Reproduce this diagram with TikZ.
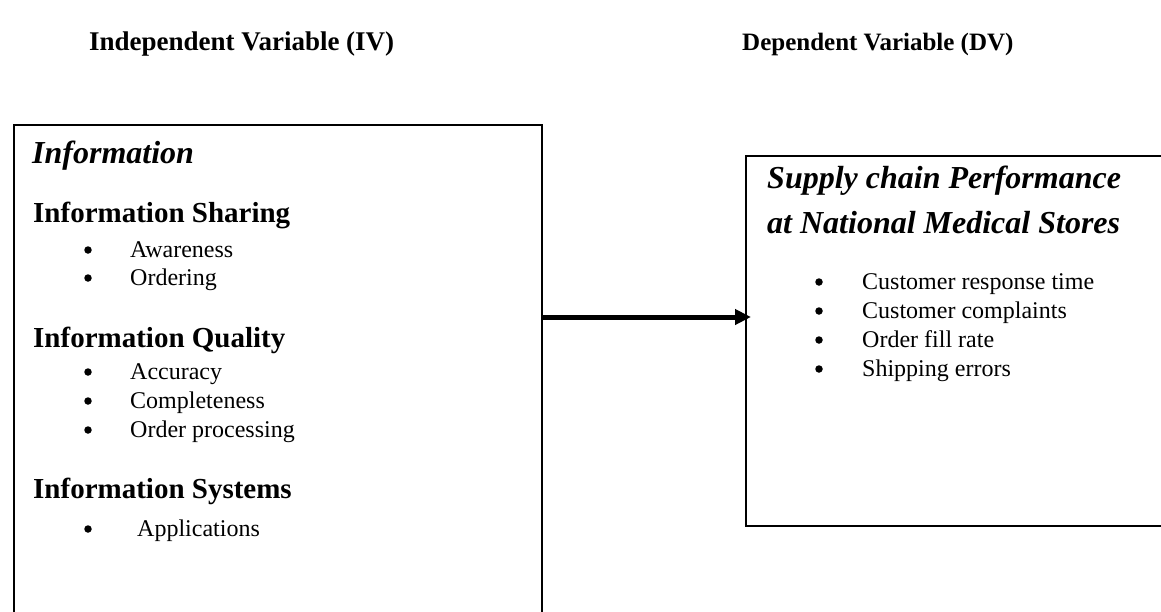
\documentclass[tikz,border=0pt]{standalone}
\usepackage{fontspec}
\setmainfont{Liberation Serif}
\usetikzlibrary{arrows.meta}
\tikzset{
  box/.style={draw, line width=2pt, rectangle, inner sep=0pt, anchor=north west},
  hdra/.style={anchor=base west, inner sep=0pt, font=\fontsize{27}{31}\selectfont\bfseries},
  hdrb/.style={anchor=base west, inner sep=0pt, font=\fontsize{25}{29}\selectfont\bfseries},
  ttl/.style={anchor=base west, inner sep=0pt, font=\fontsize{32}{36}\selectfont\bfseries\itshape},
  sub/.style={anchor=base west, inner sep=0pt, font=\fontsize{29}{33}\selectfont\bfseries},
  itm/.style={anchor=base west, inner sep=0pt, font=\fontsize{24}{28}\selectfont},
  dot/.style={circle, fill=black, inner sep=0pt, minimum size=7.5pt},
  link/.style={line width=5pt, -{Triangle[length=16pt,width=15pt]}, shorten >=-6pt}
}
\begin{document}
\begin{tikzpicture}[x=1pt,y=-1pt]
\useasboundingbox (0,0) rectangle (1161,611);
\clip (0,0) rectangle (1161,611);
% headers
\node[hdra] (hiv) at (89,50) {Independent Variable (IV)};
\node[hdrb] (hdv) at (742,50) {Dependent Variable (DV)};
% boxes
\node[box, minimum width=528pt, minimum height=520pt] (iv) at (13,124) {};
\node[box, minimum width=440pt, minimum height=370pt] (dv) at (745,155) {};
% left box content
\node[ttl] (tinfo) at (32,163) {Information};
\node[sub] (s1) at (33,222) {Information Sharing};
\node[dot] (b1) at (88,250) {}; \node[itm] (i1) at (130,257) {Awareness};
\node[dot] (b2) at (88,278) {}; \node[itm] (i2) at (130,285) {Ordering};
\node[sub] (s2) at (33,347) {Information Quality};
\node[dot] (b3) at (88,372) {}; \node[itm] (i3) at (130,379) {Accuracy};
\node[dot] (b4) at (88,401) {}; \node[itm] (i4) at (130,408) {Completeness};
\node[dot] (b5) at (88,430) {}; \node[itm] (i5) at (130,437) {Order processing};
\node[sub] (s3) at (33,498) {Information Systems};
\node[dot] (b6) at (88,529) {}; \node[itm] (i6) at (137,536) {Applications};
% right box content
\node[ttl] (tsc1) at (767,188) {Supply chain Performance};
\node[ttl] (tsc2) at (767,233) {at National Medical Stores};
\node[dot] (c1) at (819,282) {}; \node[itm] (j1) at (862,289) {Customer response time};
\node[dot] (c2) at (819,311) {}; \node[itm] (j2) at (862,318) {Customer complaints};
\node[dot] (c3) at (819,340) {}; \node[itm] (j3) at (862,347) {Order fill rate};
\node[dot] (c4) at (819,369) {}; \node[itm] (j4) at (862,376) {Shipping errors};
% arrow
\coordinate (ay) at (0,317);
\draw[link] (iv.east |- ay) -- (dv.west |- ay);
\end{tikzpicture}
\end{document}
